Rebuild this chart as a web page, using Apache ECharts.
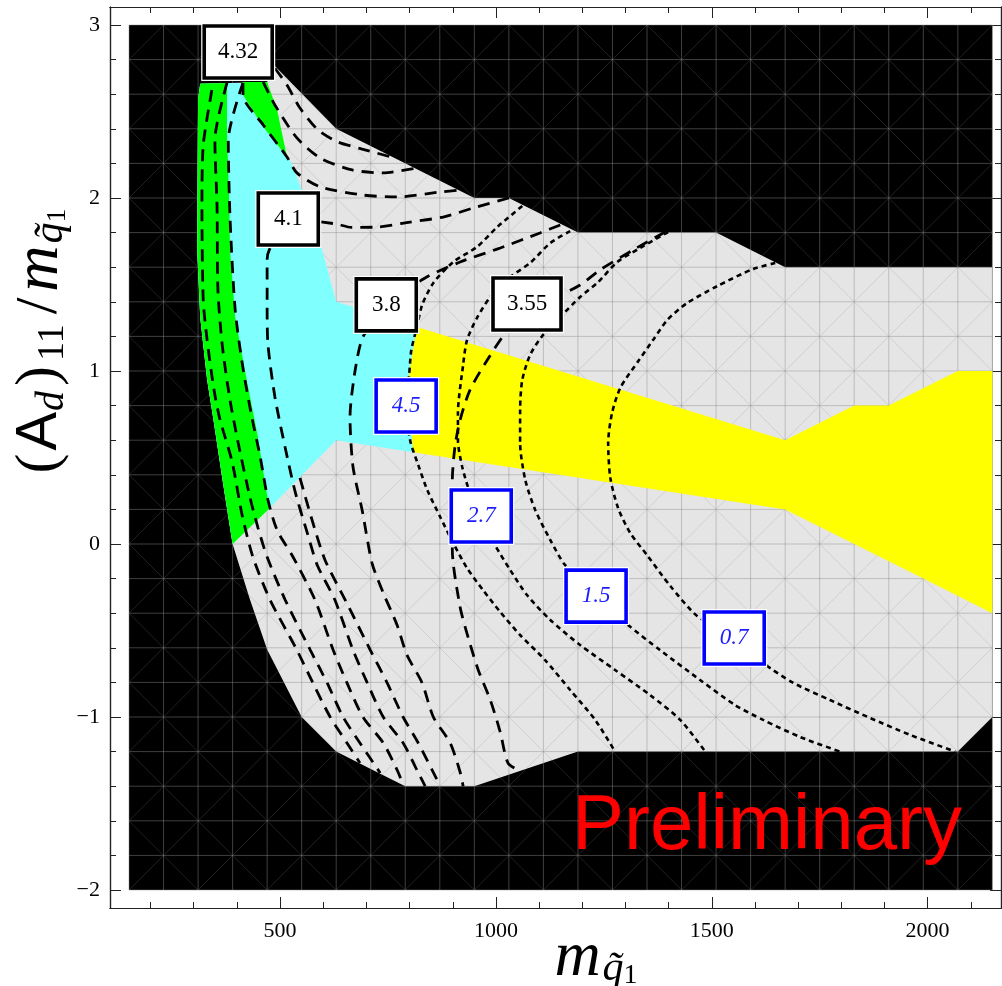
<!DOCTYPE html>
<html>
<head>
<meta charset="utf-8">
<script src="https://cdn.jsdelivr.net/npm/echarts@6/dist/echarts.min.js"></script>
<style>
  html, body { margin: 0; padding: 0; background: #fff; }
  #chart { width: 1002px; height: 986px; }
</style>
</head>
<body>
<div id="chart"></div>
<script>
// region outlines, points are [m_q1, (A_d)_11 / m_q1]
const plotArea = [[150, -2], [2150, -2], [2150, 3], [150, 3]]
const validRegion = [[310, 2.57], [315, 2.66], [470, 2.67], [485, 2.77], [630, 2.4], [950, 2.0], [1030, 2.0],
  [1190, 1.8], [1510, 1.8], [1670, 1.6], [2150, 1.6], [2150, -1.0], [2070, -1.2], [1190, -1.2], [950, -1.4],
  [790, -1.4], [710, -1.3], [630, -1.2], [550, -1.0], [470, -0.61], [430, -0.32], [390, 0], [368, 0.35],
  [345, 0.73], [331, 0.95], [315, 1.31], [308, 1.7]]
const cyanRegion = [[315, 2.66], [414, 2.665], [414, 2.595], [461, 2.41], [516, 2.237], [523, 2.22], [539, 2.12],
  [586, 1.8], [630, 1.4], [817, 1.254], [799, 0.99], [801, 0.76], [806, 0.6], [808, 0.53], [630, 0.6],
  [546, 0.387], [477, 0.21], [390, 0], [368, 0.35], [345, 0.73], [331, 0.95], [315, 1.31], [308, 1.7], [310, 2.57]]
const greenStrip = [[310, 2.57], [315, 2.66], [377, 2.665], [377, 2.38], [382, 1.99], [384, 1.7], [396, 1.31],
  [424, 0.93], [447, 0.64], [472, 0.25], [477, 0.21], [390, 0], [368, 0.35], [345, 0.73], [331, 0.95],
  [315, 1.31], [308, 1.7]]
const greenWedge = [[414, 2.67], [470, 2.67], [493, 2.51], [516, 2.237], [461, 2.41], [414, 2.595]]
const yellowBand = [[817, 1.254], [1670, 0.6], [1830, 0.8], [1910, 0.8], [2070, 1.0], [2150, 1.0], [2150, -0.4],
  [1990, -0.2], [1830, 0.0], [1670, 0.2], [808, 0.53], [806, 0.6], [801, 0.76], [799, 0.99]]

// dashed contours
const dashStripA = [[342, 2.624], [322, 2.306], [319, 1.948], [322, 1.41], [331, 1.179], [347, 0.89], [361, 0.717],
  [389, 0.474], [412, 0.168], [437, -0.075], [477, -0.324], [539, -0.613], [576, -0.803], [616, -1.0],
  [655, -1.15], [685, -1.266]]
const dashStripB = [[377, 2.665], [349, 2.335], [354, 1.948], [356, 1.468], [366, 1.15], [384, 0.832], [403, 0.584],
  [430, 0.272], [449, 0.092], [470, -0.075], [512, -0.324], [570, -0.613], [609, -0.803], [646, -1.0],
  [685, -1.15], [732, -1.324]]
const dashStripC = [[414, 2.665], [380, 2.335], [384, 1.89], [396, 1.353], [414, 1.017], [435, 0.728], [454, 0.503],
  [472, 0.254], [493, 0.081], [530, -0.075], [581, -0.324], [623, -0.613], [655, -0.803], [692, -1.0],
  [739, -1.15], [771, -1.306], [785, -1.39]]
const dash41 = [[1030, 2.0], [947, 1.942], [878, 1.89], [801, 1.861], [725, 1.832], [665, 1.83], [630, 1.85],
  [519, 1.879], [475, 1.7], [470, 1.642], [470, 1.353], [472, 1.15], [488, 0.85], [512, 0.555], [535, 0.301],
  [563, 0.064], [586, -0.121], [627, -0.324], [669, -0.613], [702, -0.803], [739, -1.0], [785, -1.15],
  [817, -1.306], [836, -1.4]]
const dashFan = [[546, 0.382], [574, 0.139], [604, -0.092], [651, -0.324], [709, -0.613], [748, -0.803],
  [785, -1.0], [820, -1.15], [852, -1.306], [871, -1.4]]
const dashTopA = [[488, 2.75], [516, 2.653], [546, 2.52], [588, 2.393], [634, 2.324], [690, 2.283], [766, 2.231]]
const dashTopB = [[461, 2.67], [488, 2.538], [539, 2.347], [593, 2.231], [667, 2.162], [739, 2.145], [813, 2.172]]
const dashTopC = [[414, 2.665], [414, 2.595], [461, 2.422], [516, 2.237], [539, 2.145], [593, 2.064], [692, 2.017],
  [771, 2.006], [871, 2.035], [917, 2.046]]
const dash38 = [[1149, 1.844], [1102, 1.798], [1010, 1.711], [917, 1.63], [836, 1.538], [746, 1.382], [692, 1.197],
  [674, 1.006], [662, 0.734], [669, 0.445], [690, 0.197], [713, -0.11], [739, -0.283], [771, -0.468],
  [794, -0.642], [829, -0.803], [855, -1.0], [894, -1.15], [917, -1.318], [924, -1.4]]
const dash355 = [[1392, 1.803], [1318, 1.7], [1241, 1.584], [1195, 1.497], [1140, 1.43], [1072, 1.387], [1026, 1.237],
  [980, 1.064], [940, 0.891], [917, 0.717], [905, 0.561], [899, 0.37], [899, 0.179], [899, -0.035],
  [917, -0.364], [936, -0.543], [959, -0.728], [987, -0.902], [1010, -1.087], [1028, -1.266], [1056, -1.312]]

// dotted contours
const dot45 = [[1061, 1.954], [1003, 1.832], [956, 1.717], [901, 1.63], [855, 1.509], [829, 1.382], [817, 1.254],
  [804, 1.121], [799, 0.977], [792, 0.798], [801, 0.601], [820, 0.457], [841, 0.312], [871, 0.156], [901, 0.006],
  [933, -0.139], [970, -0.266], [1010, -0.393], [1056, -0.526], [1114, -0.671], [1172, -0.844], [1230, -1.017],
  [1276, -1.2]]
const dot27 = [[1172, 1.809], [1126, 1.74], [1079, 1.624], [1033, 1.543], [987, 1.428], [956, 1.306], [933, 1.179],
  [924, 1.035], [912, 0.757], [912, 0.601], [922, 0.445], [940, 0.295], [966, 0.162], [998, -0.006],
  [1033, -0.15], [1072, -0.295], [1126, -0.439], [1195, -0.584], [1276, -0.728], [1357, -0.873],
  [1427, -1.017], [1485, -1.2]]
const dot15 = [[1399, 1.803], [1334, 1.711], [1281, 1.63], [1237, 1.514], [1195, 1.428], [1149, 1.312], [1109, 1.208],
  [1079, 1.092], [1061, 0.948], [1056, 0.775], [1056, 0.584], [1068, 0.37], [1091, 0.197], [1126, 0.023],
  [1160, -0.121], [1232, -0.301], [1306, -0.468], [1380, -0.613], [1473, -0.786], [1554, -0.931],
  [1619, -1.017], [1705, -1.116], [1797, -1.2]]
const dot07 = [[1647, 1.624], [1596, 1.59], [1513, 1.491], [1443, 1.393], [1397, 1.295], [1364, 1.179], [1330, 1.058],
  [1288, 0.902], [1269, 0.757], [1260, 0.584], [1265, 0.382], [1283, 0.208], [1311, 0.064], [1350, -0.064],
  [1404, -0.243], [1466, -0.416], [1552, -0.543], [1619, -0.688], [1689, -0.803], [1774, -0.902],
  [1867, -1.006], [1960, -1.104], [2064, -1.2]]

// contour labels
const labelText = ['4.32', '4.1', '3.8', '3.55', '4.5', '2.7', '1.5', '0.7']
const labelX = [403, 519, 746, 1072, 792, 966, 1232, 1552]
const labelY = [2.844, 1.879, 1.382, 1.387, 0.798, 0.162, -0.301, -0.543]
const labelDotted = [false, false, false, false, true, true, true, true]

// ticks
const xMajor = [500, 1000, 1500, 2000]
const xMinor = [200, 300, 400, 600, 700, 800, 900, 1100, 1200, 1300, 1400, 1600, 1700, 1800, 1900, 2100]
const yMajor = [-2, -1, 0, 1, 2, 3]
const yMinor = [-1.8, -1.6, -1.4, -1.2, -0.8, -0.6, -0.4, -0.2, 0.2, 0.4, 0.6, 0.8,
  1.2, 1.4, 1.6, 1.8, 2.2, 2.4, 2.6, 2.8]

// interpolation mesh of the scan (80 x 0.2 cells)
const meshX = []
for (let x = 150; x <= 2150; x += 80) meshX.push(x)
const meshY = []
for (let k = 0; k <= 25; k++) meshY.push(-2 + k * 0.2)

const SERIF = "'Liberation Serif', 'DejaVu Serif', serif"
const X_MIN = 106, X_MAX = 2170, Y_MIN = -2.104, Y_MAX = 3.104

function polygon(pts, color, z) {
  return {
    type: 'custom',
    coordinateSystem: 'cartesian2d',
    silent: true,
    z: z,
    data: [[pts[0][0], pts[0][1]]],
    renderItem: (params, api) => ({
      type: 'polygon',
      shape: { points: pts.map(p => api.coord(p)) },
      style: { fill: color }
    })
  }
}

function contour(pts, dotted) {
  return {
    type: 'line',
    data: pts,
    symbol: 'none',
    smooth: 0.25,
    z: 10,
    silent: true,
    lineStyle: {
      color: '#000',
      width: dotted ? 2.6 : 2.8,
      type: dotted ? [5, 4] : [12, 8],
      cap: 'butt'
    }
  }
}

const meshSeries = {
  type: 'custom',
  coordinateSystem: 'cartesian2d',
  silent: true,
  z: 3,
  data: [[150, -2]],
  renderItem: (params, api) => {
    const children = []
    const seg = (a, b, alpha, w) => {
      const p = api.coord(a)
      const q = api.coord(b)
      children.push({
        type: 'line',
        shape: { x1: p[0], y1: p[1], x2: q[0], y2: q[1] },
        style: { stroke: 'rgba(140,140,140,' + alpha + ')', lineWidth: w }
      })
    }
    for (let i = 0; i < meshX.length - 1; i++) {
      for (let j = 0; j < meshY.length - 1; j++) {
        if ((i + j) % 2 === 0) seg([meshX[i], meshY[j]], [meshX[i + 1], meshY[j + 1]], 0.3, 0.8)
        else seg([meshX[i], meshY[j + 1]], [meshX[i + 1], meshY[j]], 0.3, 0.8)
      }
    }
    meshX.forEach(x => seg([x, -2], [x, 3], 0.45, 1))
    meshY.forEach(y => seg([150, y], [2150, y], 0.45, 1))
    return { type: 'group', children }
  }
}

const labelSeries = {
  type: 'custom',
  coordinateSystem: 'cartesian2d',
  silent: true,
  z: 20,
  data: labelText.map((t, i) => [labelX[i], labelY[i], i]),
  renderItem: (params, api) => {
    const i = api.value(2)
    const c = api.coord([api.value(0), api.value(1)])
    const dotted = labelDotted[i]
    const w = labelText[i].length > 3 ? 68 : 60
    const h = 52
    return {
      type: 'group',
      children: [
        { type: 'rect', shape: { x: c[0] - w / 2 - 3, y: c[1] - h / 2 - 3, width: w + 6, height: h + 6 },
          style: { fill: '#fff' } },
        { type: 'rect', shape: { x: c[0] - w / 2, y: c[1] - h / 2, width: w, height: h },
          style: { fill: '#fff', stroke: dotted ? '#0000ff' : '#000', lineWidth: 3.6 } },
        { type: 'text', style: {
            text: labelText[i], x: c[0], y: c[1], textAlign: 'center', textVerticalAlign: 'middle',
            font: (dotted ? 'italic ' : '') + '23px ' + SERIF, fill: dotted ? '#1c1cff' : '#000' } }
      ]
    }
  }
}

function xAxis(position, ticks, len, labels) {
  return {
    type: 'value', min: X_MIN, max: X_MAX, position: position,
    axisLine: { show: true, onZero: false, lineStyle: { color: '#222', width: 1.2 } },
    axisTick: { show: true, inside: true, length: len, customValues: ticks, lineStyle: { color: '#222', width: 1 } },
    axisLabel: labels ? { show: true, customValues: ticks, margin: 12, color: '#000', fontFamily: SERIF, fontSize: 22,
      formatter: v => String(v) } : { show: false },
    splitLine: { show: false }
  }
}

function yAxis(position, ticks, len, labels) {
  return {
    type: 'value', min: Y_MIN, max: Y_MAX, position: position,
    axisLine: { show: true, onZero: false, lineStyle: { color: '#222', width: 1.2 } },
    axisTick: { show: true, inside: true, length: len, customValues: ticks, lineStyle: { color: '#222', width: 1 } },
    axisLabel: labels ? { show: true, customValues: ticks, margin: 10, color: '#000', fontFamily: SERIF, fontSize: 22,
      formatter: v => String(v).replace('-', '\u2212') } : { show: false },
    splitLine: { show: false }
  }
}

const chart = echarts.init(document.getElementById('chart'))

chart.setOption({
  animation: false,
  backgroundColor: '#fff',
  grid: { left: 110, right: 1, top: 7, bottom: 78 },
  xAxis: [
    xAxis('bottom', xMinor, 6, false),
    xAxis('bottom', xMajor, 11, true),
    xAxis('top', xMinor, 6, false),
    xAxis('top', xMajor, 11, false)
  ],
  yAxis: [
    yAxis('left', yMinor, 6, false),
    yAxis('left', yMajor, 11, true),
    yAxis('right', yMinor, 6, false),
    yAxis('right', yMajor, 11, false)
  ],
  series: [
    polygon(plotArea, '#000', 1),
    polygon(validRegion, '#e5e5e5', 2),
    meshSeries,
    polygon(cyanRegion, '#80ffff', 4),
    polygon(greenStrip, '#00ff00', 5),
    polygon(greenWedge, '#00ff00', 5),
    polygon(yellowBand, '#ffff00', 5),
    contour(dashStripA, false),
    contour(dashStripB, false),
    contour(dashStripC, false),
    contour(dash41, false),
    contour(dashFan, false),
    contour(dashTopA, false),
    contour(dashTopB, false),
    contour(dashTopC, false),
    contour(dash38, false),
    contour(dash355, false),
    contour(dot45, true),
    contour(dot27, true),
    contour(dot15, true),
    contour(dot07, true),
    labelSeries
  ],
  graphic: [
    {
      type: 'text', x: 572, y: 827, z: 30, silent: true,
      style: { text: 'Preliminary', fill: '#ff0000', textAlign: 'left', textVerticalAlign: 'middle',
        font: "78px 'Liberation Sans', Arial, sans-serif" }
    },
    {
      type: 'text', x: 40, y: 342, rotation: Math.PI / 2, silent: true,
      style: {
        text: '{p|(}{a|A}{d|d}{p|)}{n|11}{s|/}{m|m}{q|q\u0303}{o|1}',
        textAlign: 'center', textVerticalAlign: 'middle',
        rich: {
          p: { fontFamily: SERIF, fontSize: 60, fill: '#000', padding: [0, 2] },
          a: { fontFamily: "'Liberation Sans', sans-serif", fontSize: 58, fill: '#000', padding: [0, 1] },
          d: { fontFamily: SERIF, fontStyle: 'italic', fontSize: 40, lineHeight: 24, verticalAlign: 'bottom',
            fill: '#000', padding: [0, 3, 0, 0] },
          n: { fontFamily: SERIF, fontSize: 38, lineHeight: 24, verticalAlign: 'bottom', fill: '#000',
            padding: [0, 4, 0, 3] },
          s: { fontFamily: SERIF, fontSize: 60, fill: '#000', padding: [0, 6] },
          m: { fontFamily: SERIF, fontStyle: 'italic', fontSize: 64, fill: '#000', padding: [0, 2, 0, 0] },
          q: { fontFamily: SERIF, fontStyle: 'italic', fontSize: 42, lineHeight: 26, verticalAlign: 'bottom', fill: '#000' },
          o: { fontFamily: SERIF, fontSize: 28, lineHeight: 12, verticalAlign: 'bottom', fill: '#000' }
        }
      }
    },
    {
      type: 'text', x: 596, y: 958, silent: true,
      style: {
        text: '{m|m}{q|q\u0303}{o|1}',
        textAlign: 'center', textVerticalAlign: 'middle',
        rich: {
          m: { fontFamily: SERIF, fontStyle: 'italic', fontSize: 64, fill: '#000', padding: [0, 2, 0, 0] },
          q: { fontFamily: SERIF, fontStyle: 'italic', fontSize: 42, lineHeight: 26, verticalAlign: 'bottom', fill: '#000' },
          o: { fontFamily: SERIF, fontSize: 28, lineHeight: 12, verticalAlign: 'bottom', fill: '#000' }
        }
      }
    }
  ]
})

window.addEventListener('resize', () => chart.resize())
</script>
</body>
</html>
